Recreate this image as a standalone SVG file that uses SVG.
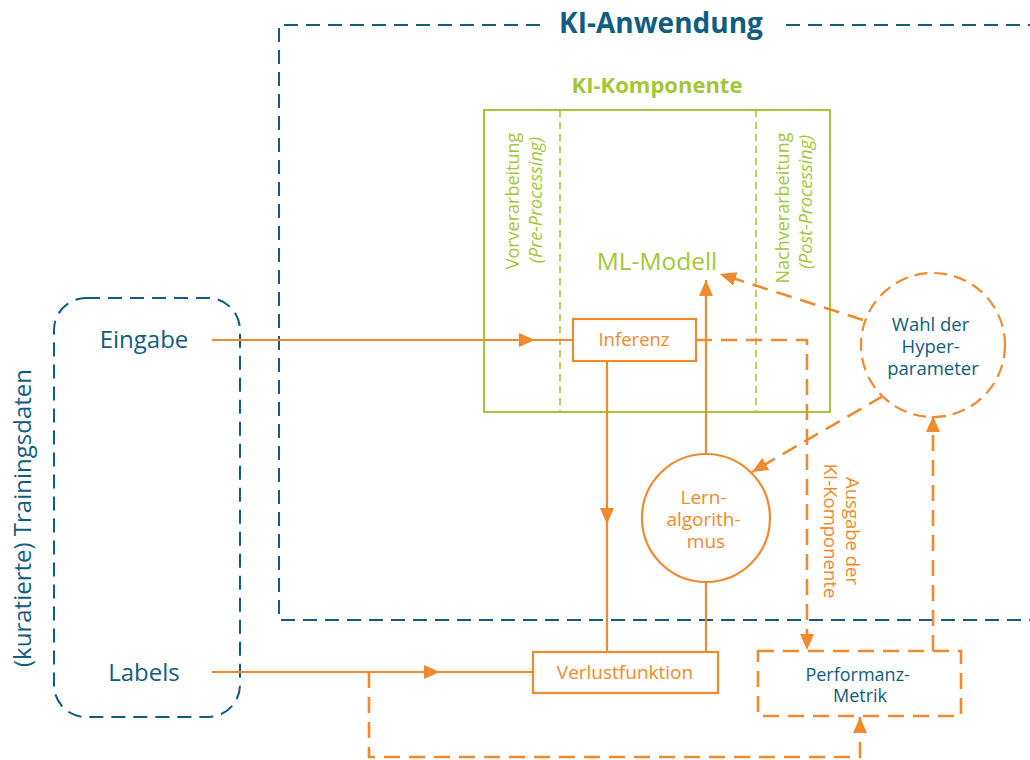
<svg xmlns="http://www.w3.org/2000/svg" width="1030" height="760" viewBox="0 0 1030 760">
  <defs>
    <style>
      text { font-family: "Open Sans", "Noto Sans", sans-serif; }
      .teal { fill: #105d80; }
      .org { fill: #f08a2c; }
      .grn { fill: #a4c639; }
      .title { font-weight: 700; }
      .ln { stroke: #f08a2c; stroke-width: 2.2; fill: none; }
      .dln { stroke: #f08a2c; stroke-width: 2.6; fill: none; stroke-dasharray: 16 9; }
      .tdash { stroke: #105d80; stroke-width: 2; fill: none; stroke-dasharray: 14 8; }
      .gbox { stroke: #a4c639; stroke-width: 2; fill: none; }
      .gdash { stroke: #a4c639; stroke-width: 1.6; fill: none; stroke-dasharray: 7 5; }
    </style>
    <marker id="arr" viewBox="0 0 16 14" refX="16" refY="7" markerWidth="16" markerHeight="14" markerUnits="userSpaceOnUse" orient="auto">
      <path d="M0,0 L16,7 L0,14 Z" fill="#f08a2c"/>
    </marker>
  </defs>

  <!-- application frame -->
  <g id="ki-anwendung">
    <path class="tdash" d="M540,25 L279,25 L279,620 L1030,620"/>
    <path class="tdash" d="M786,25 L1030,25"/>
    <text class="teal title" x="661" y="33" font-size="28" text-anchor="middle">KI-Anwendung</text>
  </g>

  <!-- AI component -->
  <g id="ki-komponente">
    <text class="grn title" x="657" y="93" font-size="22" text-anchor="middle">KI-Komponente</text>
    <rect class="gbox" x="484" y="110" width="346" height="302"/>
    <line class="gdash" x1="560" y1="110" x2="560" y2="412"/>
    <line class="gdash" x1="756" y1="110" x2="756" y2="412"/>
    <text class="grn" font-size="18" text-anchor="middle" transform="translate(519,201) rotate(-90)">Vorverarbeitung</text>
    <text class="grn" font-size="18" font-style="italic" text-anchor="middle" transform="translate(542,200) rotate(-90)">(Pre-Processing)</text>
    <text class="grn" font-size="18" text-anchor="middle" transform="translate(789,208) rotate(-90)">Nachverarbeitung</text>
    <text class="grn" font-size="18" font-style="italic" text-anchor="middle" transform="translate(812,202) rotate(-90)">(Post-Processing)</text>
  </g>

  <g id="ml-modell">
    <text class="grn" x="657" y="270" font-size="24.5" text-anchor="middle">ML-Modell</text>
  </g>

  <!-- training data -->
  <g id="trainingsdaten">
    <rect class="tdash" x="54" y="298" width="186" height="419" rx="32"/>
    <text class="teal" font-size="24" text-anchor="middle" transform="translate(31,518) rotate(-90)">(kuratierte) Trainingsdaten</text>
    <text class="teal" x="144" y="348" font-size="24" text-anchor="middle">Eingabe</text>
    <text class="teal" x="144" y="681" font-size="24" text-anchor="middle">Labels</text>
  </g>

  <g id="inferenz">
    <rect x="573" y="319" width="123" height="42" fill="#fff" stroke="#f08a2c" stroke-width="2.2"/>
    <text class="org" x="634" y="346" font-size="18.5" text-anchor="middle">Inferenz</text>
  </g>

  <g id="lernalgorithmus">
    <circle cx="706" cy="518" r="64" fill="#fff" stroke="#f08a2c" stroke-width="2.2"/>
    <text class="org" font-size="19" text-anchor="middle">
      <tspan x="706" y="504">Lern-</tspan>
      <tspan x="706" y="526">algorith-</tspan>
      <tspan x="706" y="548">mus</tspan>
    </text>
  </g>

  <g id="verlustfunktion">
    <rect x="533" y="652" width="185" height="41" fill="#fff" stroke="#f08a2c" stroke-width="2.2"/>
    <text class="org" x="625" y="679" font-size="19" text-anchor="middle">Verlustfunktion</text>
  </g>

  <g id="performanz-metrik">
    <rect class="dln" x="758" y="651" width="203" height="65" stroke-width="2.2" stroke-dasharray="12 7"/>
    <text class="teal" font-size="18" text-anchor="middle">
      <tspan x="860" y="681">Performanz-</tspan>
      <tspan x="860" y="702">Metrik</tspan>
    </text>
  </g>

  <g id="hyperparameter">
    <circle cx="933" cy="345" r="72" fill="none" stroke="#f08a2c" stroke-width="2.2" stroke-dasharray="13 7"/>
    <text class="teal" font-size="18.5" text-anchor="middle">
      <tspan x="933" y="331">Wahl der</tspan>
      <tspan x="933" y="353">Hyper-</tspan>
      <tspan x="933" y="375">parameter</tspan>
    </text>
  </g>

  <g id="ausgabe-label">
    <text class="org" font-size="18.5" text-anchor="middle" transform="translate(846,531) rotate(90)">Ausgabe der</text>
    <text class="org" font-size="18.5" text-anchor="middle" transform="translate(824,531) rotate(90)">KI-Komponente</text>
  </g>

  <!-- connectors -->
  <g id="connectors">
    <line class="ln" x1="212" y1="340" x2="535" y2="340" marker-end="url(#arr)"/>
    <line class="ln" x1="535" y1="340" x2="573" y2="340"/>
    <line class="ln" x1="212" y1="672" x2="440" y2="672" marker-end="url(#arr)"/>
    <line class="ln" x1="440" y1="672" x2="533" y2="672"/>
    <line class="ln" x1="607" y1="361" x2="607" y2="524" marker-end="url(#arr)"/>
    <line class="ln" x1="607" y1="524" x2="607" y2="652"/>
    <line class="ln" x1="706" y1="454" x2="706" y2="280" marker-end="url(#arr)"/>
    <line class="ln" x1="706" y1="582" x2="706" y2="652"/>
    <path class="dln" d="M696,340 L807,340 L807,650" marker-end="url(#arr)"/>
    <path class="dln" d="M369,672 L369,757 L860,757 L860,717" marker-end="url(#arr)"/>
    <path class="dln" d="M933,651 L933,416" marker-end="url(#arr)"/>
    <path class="dln" d="M863,320 L720,274" marker-end="url(#arr)"/>
    <path class="dln" d="M883,396 L752,472" marker-end="url(#arr)"/>
  </g>
</svg>
